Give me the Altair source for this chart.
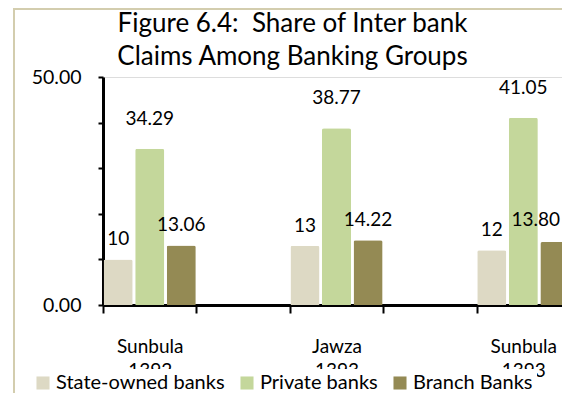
import altair as alt
import pandas as pd

# ---- data ----
periods = ["Sunbula 1392", "Jawza 1393", "Sunbula 1393"]
axis_slots = ["Sunbula 1392", " ", "Jawza 1393", "  ", "Sunbula 1393"]
groups = ["State-owned banks", "Private banks", "Branch Banks"]
state_owned = [10, 13, 12]
private = [34.29, 38.77, 41.05]
branch = [13.06, 14.22, 13.80]
label_state = ["10", "13", "12"]
label_private = ["34.29", "38.77", "41.05"]
label_branch = ["13.06", "14.22", "13.80"]
colors = ["#ddd9c4", "#c4d79b", "#948a54"]
title_lines = ["Figure 6.4:\u00a0 Share of Inter bank", "Claims Among Banking Groups"]

rows = []
for g, vals, labs in zip(groups, [state_owned, private, branch],
                         [label_state, label_private, label_branch]):
    for p, v, l in zip(periods, vals, labs):
        rows.append({"period": p, "group": g, "value": v, "label": l})
df = pd.DataFrame(rows)

FONT = "Lato"

x_enc = alt.X(
    "period:N",
    sort=axis_slots,
    scale=alt.Scale(domain=axis_slots, paddingInner=0, paddingOuter=0),
    axis=alt.Axis(
        title=None, labelAngle=0, domain=True, domainWidth=3, domainColor="black",
        ticks=True, tickBand="extent", tickSize=8, tickWidth=2, tickColor="black",
        labelExpr="split(datum.label, ' ')", labelFontSize=19,
        labelLineHeight=24, labelPadding=24, labelColor="black",
        labelFont=FONT,
    ),
)
xoff_enc = alt.XOffset(
    "group:N", sort=groups,
    scale=alt.Scale(domain=groups, paddingInner=0.08, paddingOuter=0.02),
)
y_enc = alt.Y(
    "value:Q",
    scale=alt.Scale(domain=[0, 50], nice=False),
    axis=alt.Axis(
        title=None, values=[0, 10, 20, 30, 40, 50], grid=False,
        labelExpr="(datum.value == 0 || datum.value == 50) ? format(datum.value, '.2f') : ''",
        domainWidth=3, domainColor="black", tickSize=5, tickWidth=2,
        tickColor="black", labelFontSize=19.5, labelPadding=17,
        labelColor="black", labelFont=FONT,
    ),
)

base = alt.Chart(df)

bars = base.mark_bar(cornerRadiusTopLeft=2, cornerRadiusTopRight=2).encode(
    x=x_enc,
    xOffset=xoff_enc,
    y=y_enc,
    color=alt.Color(
        "group:N", sort=groups,
        scale=alt.Scale(domain=groups, range=colors),
        legend=alt.Legend(
            title=None, orient="none", legendX=-74, legendY=292,
            direction="horizontal", columns=3, symbolType="square",
            symbolSize=170, symbolStrokeWidth=0, labelFontSize=20,
            labelFont=FONT, labelColor="black", labelOffset=3,
            labelLimit=400, columnPadding=12, fillColor="white",
            padding=4,
        ),
    ),
)

is_private = alt.datum.group == "Private banks"
is_last = (alt.datum.group == "Branch Banks") & (alt.datum.period == "Sunbula 1393")

text_private = base.transform_filter(is_private).mark_text(
    fontSize=19, font=FONT, baseline="middle", dy=-30, color="black"
).encode(x=x_enc, xOffset=xoff_enc, y=y_enc, text="label:N")

text_other = base.transform_filter(~is_private & ~is_last).mark_text(
    fontSize=19, font=FONT, baseline="middle", dy=-20, color="black"
).encode(x=x_enc, xOffset=xoff_enc, y=y_enc, text="label:N")

text_last = base.transform_filter(is_last).mark_text(
    fontSize=19, font=FONT, baseline="middle", dy=-22, dx=-19, color="black"
).encode(x=x_enc, xOffset=xoff_enc, y=y_enc, text="label:N")

border_left = alt.Chart(df).mark_rule(color="#d3cdae", strokeWidth=2).encode(
    x=alt.value(-89), y=alt.value(-68), y2=alt.value(400)
)
border_top = alt.Chart(df).mark_rule(color="#d3cdae", strokeWidth=2).encode(
    x=alt.value(-90), x2=alt.value(480), y=alt.value(-68)
)

chart = alt.layer(
    border_left, border_top, bars, text_private, text_other, text_last
).properties(
    width=467,
    height=228,
    autosize=alt.AutoSizeParams(type="none"),
    padding={"left": 95, "top": 69, "right": -8, "bottom": 88},
    title=alt.Title(
        title_lines, fontSize=26, font=FONT, fontWeight="normal",
        color="black", anchor="middle", dx=-44, lineHeight=33, offset=-62,
    ),
).configure_view(stroke=None).configure(background="white")

chart.save("out.html", embed_options={"renderer": "svg", "actions": False})
